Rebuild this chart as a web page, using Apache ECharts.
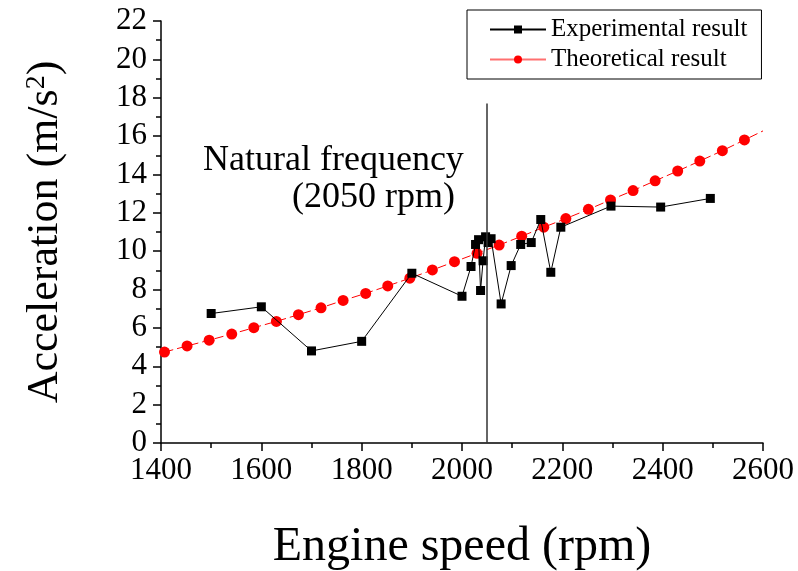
<!DOCTYPE html>
<html>
<head>
<meta charset="utf-8">
<script src="https://cdn.jsdelivr.net/npm/echarts@6/dist/echarts.min.js"></script>
<style>
  html, body { margin: 0; padding: 0; background: #fff; }
  #chart { width: 798px; height: 571px; }
</style>
</head>
<body>
<div id="chart"></div>
<script>
// Experimental result
const expSpeed = [1500, 1600, 1700, 1800, 1900, 2000, 2018, 2027, 2033, 2037, 2042, 2047, 2052, 2058,
  2078, 2098, 2117, 2138, 2157, 2177, 2197, 2297, 2396, 2495];
const expAccel = [6.75, 7.1, 4.8, 5.3, 8.85, 7.65, 9.2, 10.35, 10.6, 7.95, 9.5, 10.75, 10.45, 10.65,
  7.25, 9.25, 10.35, 10.45, 11.65, 8.9, 11.25, 12.35, 12.3, 12.75];

// Theoretical result
const theorySpeed = [1407, 1452, 1496, 1541, 1585, 1630, 1674, 1719, 1763, 1808, 1852, 1896, 1941, 1985,
  2030, 2074, 2119, 2163, 2207, 2252, 2296, 2341, 2385, 2430, 2474, 2519, 2563];
const theoryAccel = [4.74, 5.06, 5.36, 5.68, 6.01, 6.34, 6.69, 7.05, 7.43, 7.8, 8.19, 8.59, 9.02, 9.45,
  9.89, 10.32, 10.78, 11.25, 11.7, 12.18, 12.67, 13.16, 13.67, 14.18, 14.7, 15.24, 15.8];
// dashed theory line runs on to the right edge
const theoryLineEnd = [2600, 16.27];

// natural frequency marker
const naturalFreq = 2050;
const naturalLineTop = 17.7;

const serif = 'Liberation Serif, Times New Roman, serif';

const chart = echarts.init(document.getElementById('chart'));

const theoryData = theorySpeed.map((x, i) => [x, theoryAccel[i]]);
theoryData.push({ value: theoryLineEnd, symbol: 'none' });

chart.setOption({
  animation: false,
  grid: { left: 161, right: 35, top: 21, bottom: 128, outerBoundsMode: 'none', containLabel: false },
  legend: {
    orient: 'vertical',
    left: 467,
    top: 10,
    padding: [7, 14, 7, 22],
    borderColor: '#000',
    borderWidth: 1,
    itemWidth: 56,
    itemHeight: 10,
    itemGap: 5,
    textStyle: { fontFamily: serif, fontSize: 25, color: '#000' },
    data: [
      { name: 'Experimental result' },
      { name: 'Theoretical result', lineStyle: { type: 'solid', color: '#ff7070' } }
    ]
  },
  xAxis: {
    type: 'value',
    min: 1400,
    max: 2600,
    interval: 200,
    name: 'Engine speed (rpm)',
    nameLocation: 'middle',
    nameGap: 80,
    nameTextStyle: { fontFamily: serif, fontSize: 48, color: '#000' },
    axisLine: { lineStyle: { color: '#000', width: 1.5 } },
    axisTick: { length: 8, lineStyle: { color: '#000', width: 1.5 } },
    minorTick: { show: true, splitNumber: 2, length: 5, lineStyle: { color: '#000', width: 1.5 } },
    splitLine: { show: false },
    axisLabel: { fontFamily: serif, fontSize: 31, color: '#000', margin: 12, formatter: v => String(v) }
  },
  yAxis: {
    type: 'value',
    min: 0,
    max: 22,
    interval: 2,
    name: 'Acceleration (m/s{sup|2})',
    nameLocation: 'middle',
    nameGap: 94,
    nameTextStyle: {
      fontFamily: serif, fontSize: 44, color: '#000',
      rich: { sup: { fontFamily: serif, fontSize: 28, color: '#000', verticalAlign: 'top' } }
    },
    axisLine: { lineStyle: { color: '#000', width: 1.5 } },
    axisTick: { length: 8, lineStyle: { color: '#000', width: 1.5 } },
    minorTick: { show: true, splitNumber: 2, length: 5, lineStyle: { color: '#000', width: 1.5 } },
    splitLine: { show: false },
    axisLabel: { fontFamily: serif, fontSize: 31, color: '#000', margin: 14 }
  },
  graphic: [
    { type: 'text', left: 203, top: 143, style: { text: 'Natural frequency', font: '36px ' + serif, fill: '#000' } },
    { type: 'text', left: 292, top: 180, style: { text: '(2050 rpm)', font: '36px ' + serif, fill: '#000' } }
  ],
  series: [
    {
      name: 'Experimental result',
      type: 'line',
      data: expSpeed.map((x, i) => [x, expAccel[i]]),
      symbol: 'rect',
      symbolSize: 9,
      itemStyle: { color: '#000' },
      lineStyle: { color: '#000', width: 1 },
      markLine: {
        silent: true,
        symbol: 'none',
        label: { show: false },
        lineStyle: { color: '#333', width: 1.5, type: 'solid' },
        data: [[{ coord: [naturalFreq, 0] }, { coord: [naturalFreq, naturalLineTop] }]]
      },
      z: 3
    },
    {
      name: 'Theoretical result',
      type: 'line',
      data: theoryData,
      symbol: 'circle',
      symbolSize: 11,
      itemStyle: { color: '#ff0000' },
      lineStyle: { color: '#ff0000', width: 1, type: [9, 4] },
      z: 2
    }
  ]
});
</script>
</body>
</html>
